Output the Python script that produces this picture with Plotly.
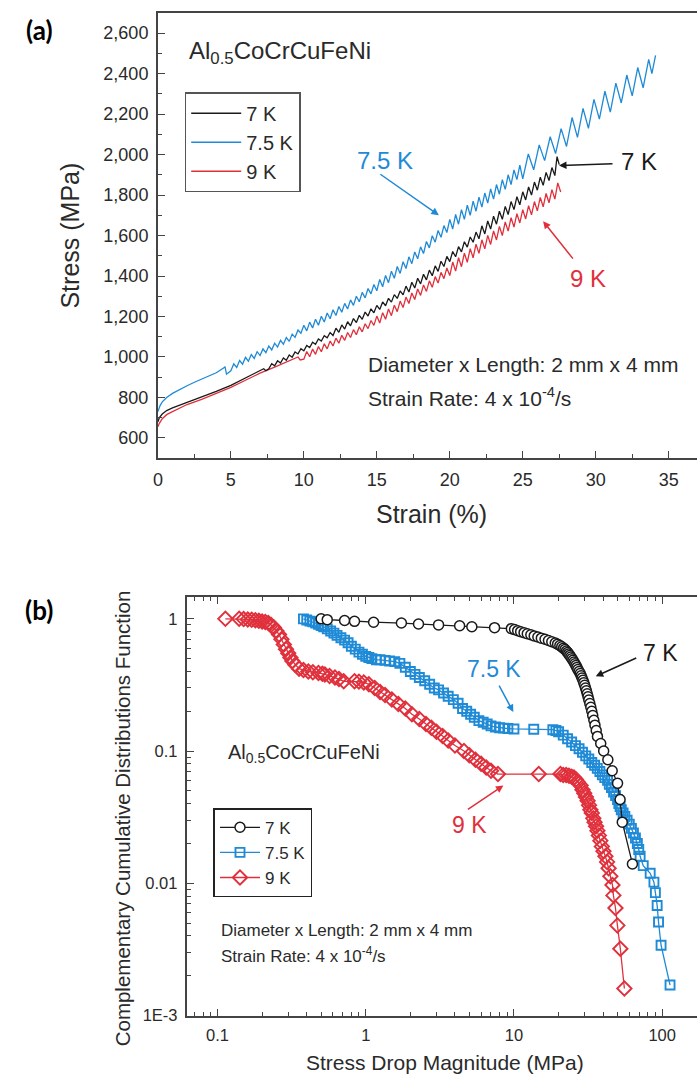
import plotly.graph_objects as go

# ---------------- Panel (a): stress-strain data (strain %, stress MPa) ----------------
curve_7K = [(0,680),(0.1,700),(0.3,718),(0.6,735),(1,748),(1.5,762),(2,775),(3,800),(4,830),(5,860),
            (6,895),(7,930),(7.25,942),(7.4,932),
            (7.6,942),(7.8,967),(8.0,956),(8.2,981),(8.4,970),(8.6,995),(8.8,984),(9.0,1010),
            (9.2,999),(9.4,1025),(9.6,1015),(9.8,1041),(10.0,1031),(10.2,1057),(10.4,1047),(10.6,1073),
            (10.8,1063),(11.0,1089),(11.2,1079),(11.4,1105),(11.6,1095),(11.8,1121),(12.0,1106),(12.2,1142),
            (12.4,1122),(12.6,1158),(12.8,1138),(13.0,1174),(13.2,1154),(13.4,1190),(13.6,1170),(13.8,1206),
            (14.0,1186),(14.2,1222),(14.4,1202),(14.6,1238),(14.8,1218),(15.0,1255),(15.2,1235),(15.4,1272),
            (15.6,1253),(15.8,1290),(16.0,1271),(16.2,1308),(16.4,1289),(16.6,1326),(16.8,1307),(17.0,1350),
            (17.2,1321),(17.4,1369),(17.6,1341),(17.8,1389),(18.0,1361),(18.2,1409),(18.4,1381),(18.6,1429),
            (18.8,1401),(19.0,1450),(19.2,1423),(19.4,1473),(19.6,1447),(19.8,1497),(20.0,1471),(20.2,1521),
            (20.4,1495),(20.6,1545),(20.8,1519),(21.0,1569),(21.2,1543),(21.4,1593),(21.6,1567),(21.8,1617),
            (22.0,1584),(22.2,1648),(22.4,1608),(22.6,1672),(22.8,1632),(23.0,1696),(23.2,1656),(23.4,1720),
            (23.6,1680),(23.8,1744),(24.0,1704),(24.2,1768),(24.4,1728),(24.6,1792),(24.8,1752),(25.0,1816),
            (25.2,1776),(25.4,1840),(25.6,1800),(25.8,1864),(26.0,1824),(26.2,1888),(26.4,1848),(26.6,1912),
            (26.8,1872),(27.0,1936),(27.2,1896),(27.35,1990),(27.5,1950)]

curve_75K = [(0,730),(0.15,760),(0.3,778),(0.6,800),(1,820),(1.5,840),(2,858),(2.5,875),(3,890),(3.5,905),
             (4,922),(4.5,945),(4.6,952),(4.7,915),
             (5.0,932),(5.2,966),(5.4,948),(5.6,982),(5.8,964),(6.0,998),(6.2,979),(6.4,1012),
             (6.6,993),(6.8,1026),(7.0,1007),(7.2,1040),(7.4,1021),(7.6,1054),(7.8,1035),(8.0,1068),
             (8.2,1049),(8.4,1082),(8.6,1063),(8.8,1096),(9.0,1077),(9.2,1113),(9.4,1097),(9.6,1133),
             (9.8,1117),(10.0,1157),(10.2,1129),(10.4,1172),(10.6,1143),(10.8,1186),(11.0,1157),(11.2,1201),
             (11.4,1173),(11.6,1217),(11.8,1189),(12.0,1233),(12.2,1205),(12.4,1249),(12.6,1221),(12.8,1265),
             (13.0,1237),(13.2,1282),(13.4,1255),(13.6,1300),(13.8,1273),(14.0,1319),(14.2,1292),(14.4,1338),
             (14.6,1312),(14.8,1358),(15.0,1327),(15.2,1383),(15.4,1347),(15.6,1403),(15.8,1367),(16.0,1424),
             (16.2,1389),(16.4,1447),(16.6,1413),(16.8,1471),(17.0,1437),(17.2,1495),(17.4,1461),(17.6,1519),
             (17.8,1485),(18.0,1544),(18.2,1511),(18.4,1571),(18.6,1539),(18.8,1599),(19.0,1567),(19.2,1625),
             (19.4,1591),(19.6,1649),(19.8,1615),(20.0,1680),(20.2,1632),(20.4,1704),(20.6,1656),(20.8,1728),
             (21.0,1680),(21.2,1750),(21.4,1700),(21.6,1770),(21.8,1720),(22.0,1790),(22.2,1740),(22.4,1810),
             (22.6,1760),(22.8,1830),(23.0,1780),(23.2,1852),(23.4,1804),(23.6,1876),(23.8,1828),(24.0,1900),
             (24.2,1852),(24.4,1924),(24.6,1876),(24.8,1948),
             (25.0,1880),(25.38,2003),(25.75,1925),(26.13,2048),(26.5,1970),(26.88,2088),(27.25,2005),(27.63,2128),
             (28.0,2040),(28.38,2183),(28.75,2085),(29.13,2228),(29.5,2130),(29.88,2273),(30.25,2175),(30.63,2313),
             (31.0,2210),(31.38,2353),(31.75,2255),(32.13,2393),(32.5,2290),(32.88,2430),(33.25,2330),(33.63,2470),
             (33.85,2400),(34.1,2490)]

curve_9K = [(0,655),(0.1,672),(0.3,695),(0.6,715),(1,730),(1.5,748),(2,765),(3,790),(4,820),(5,850),
            (6,885),(7,920),(8,950),(9,980),(9.6,1000),(9.75,985),
            (10.0,989),(10.2,1027),(10.4,1001),(10.6,1039),(10.8,1013),(11.0,1052),(11.2,1026),(11.4,1065),
            (11.6,1040),(11.8,1079),(12.0,1054),(12.2,1093),(12.4,1068),(12.6,1107),(12.8,1082),(13.0,1121),
            (13.2,1096),(13.4,1135),(13.6,1110),(13.8,1149),(14.0,1124),(14.2,1164),(14.4,1140),(14.6,1180),
            (14.8,1156),(15.0,1202),(15.2,1168),(15.4,1219),(15.6,1186),(15.8,1237),(16.0,1204),(16.2,1256),
            (16.4,1224),(16.6,1276),(16.8,1244),(17.0,1296),(17.2,1264),(17.4,1316),(17.6,1284),(17.8,1336),
            (18.0,1304),(18.2,1356),(18.4,1324),(18.6,1376),(18.8,1344),(19.0,1397),(19.2,1365),(19.4,1418),
            (19.6,1387),(19.8,1440),(20.0,1402),(20.2,1469),(20.4,1424),(20.6,1491),(20.8,1446),(21.0,1513),
            (21.2,1468),(21.4,1535),(21.6,1490),(21.8,1557),(22.0,1512),(22.2,1579),(22.4,1534),(22.6,1601),
            (22.8,1556),(23.0,1623),(23.2,1578),(23.4,1645),(23.6,1600),(23.8,1667),(24.0,1622),(24.2,1688),
            (24.4,1642),(24.6,1708),(24.8,1662),(25.0,1728),(25.2,1682),(25.4,1748),(25.6,1702),(25.8,1768),
            (26.0,1722),(26.2,1788),(26.4,1742),(26.6,1808),(26.8,1762),(27.0,1827),(27.2,1780),(27.4,1860),
            (27.6,1815)]

strain_ticks = [0, 5, 10, 15, 20, 25, 30, 35]
stress_ticks = [600, 800, 1000, 1200, 1400, 1600, 1800, 2000, 2200, 2400, 2600]

# ---------------- Panel (b): CCDF data (stress drop MPa, CCDF) ----------------
drop_7K = [0.50, 0.55, 0.72, 0.84, 1.13, 1.74, 2.27, 3.1, 4.3, 5.2, 7.4,
           9.6, 10.1, 10.6, 11.1, 11.7, 12.3, 13.0, 13.7, 14.5, 15.3, 16.2, 17.1, 18.0, 19.0,
           19.7, 20.4, 21.0, 21.6, 22.1, 22.6, 23.0, 23.4, 23.8, 24.2, 24.6, 25.0, 25.4, 25.8, 26.2, 26.6, 27.0, 27.5, 28.0,
           28.4, 28.8, 29.2, 29.6, 30.0, 30.4, 30.8, 31.2, 31.6, 32.0, 32.5, 33.0, 33.5, 34.0, 34.6, 35.2, 35.9, 36.6,
           38.5, 40.3, 43.0, 46.0, 50.0, 52.0, 53.8, 63.0]
ccdf_7K = [1.000, 0.986, 0.971, 0.957, 0.943, 0.929, 0.914, 0.900, 0.886, 0.871, 0.857, 0.843, 0.829, 0.814,
           0.800, 0.786, 0.771, 0.757, 0.743, 0.729, 0.714, 0.700, 0.686, 0.671, 0.657, 0.643, 0.629, 0.614,
           0.600, 0.586, 0.571, 0.557, 0.543, 0.529, 0.514, 0.500, 0.486, 0.471, 0.457, 0.443, 0.429, 0.414,
           0.400, 0.386, 0.371, 0.357, 0.343, 0.329, 0.314, 0.300, 0.286, 0.271, 0.257, 0.243, 0.229, 0.214,
           0.200, 0.186, 0.171, 0.157, 0.143, 0.129, 0.114, 0.100, 0.086, 0.071, 0.057, 0.043, 0.029, 0.014]

pts_75K = [(0.38,1.0),(0.40,0.98),(0.42,0.96),(0.44,0.95),(0.46,0.93),(0.48,0.91),(0.50,0.89),(0.52,0.87),
           (0.55,0.84),(0.58,0.81),(0.61,0.78),(0.64,0.75),(0.68,0.72),(0.72,0.69),(0.76,0.66),(0.80,0.62),
           (0.85,0.59),(0.90,0.56),(0.95,0.54),(1.00,0.52),(1.05,0.51),(1.10,0.50),(1.18,0.49),(1.25,0.49),
           (1.35,0.485),(1.45,0.48),(1.57,0.475),(1.70,0.46),(1.85,0.43),(2.00,0.40),(2.15,0.38),(2.30,0.36),
           (2.50,0.34),(2.70,0.32),(2.90,0.30),(3.10,0.29),(3.35,0.275),(3.60,0.26),(3.90,0.245),(4.20,0.23),
           (4.50,0.21),(4.80,0.20),(5.10,0.19),(5.40,0.18),(5.80,0.17),(6.20,0.165),(6.60,0.16),(7.00,0.155),
           (7.50,0.152),(8.00,0.15),(8.50,0.149),(9.10,0.148),(10.0,0.147),(13.6,0.146),(18.3,0.145),(19.2,0.143),
           (20.0,0.14),(21.5,0.132),(23.0,0.124),(24.5,0.117),(26.0,0.11),(27.5,0.104),(29.0,0.098),(30.5,0.092),
           (32.0,0.087),(33.5,0.082),(35.0,0.078),(36.5,0.074),(38.0,0.07),(39.5,0.066),(41.0,0.063),(42.8,0.06),
           (44.0,0.056),(45.5,0.053),(47.0,0.049),(48.5,0.046),(50.0,0.043),(51.0,0.04),(52.0,0.038),(53.0,0.036),
           (54.5,0.034),(56.0,0.032),(58.0,0.03),(60.0,0.028),(62.0,0.026),(64.0,0.024),(66.0,0.022),(68.0,0.02),
           (69.5,0.018),(71.0,0.016),(74.5,0.0136),(83.0,0.0119),(88.0,0.0102),(90.0,0.0085),(92.5,0.0068),
           (94.5,0.0051),(98.3,0.0034),(113.0,0.0017)]

pts_9K = [(0.113,1.0),(0.14,1.0),(0.15,0.995),(0.16,0.99),(0.17,0.985),(0.18,0.975),(0.19,0.965),(0.20,0.955),
          (0.21,0.945),(0.22,0.93),(0.23,0.90),(0.24,0.86),(0.25,0.81),(0.26,0.76),(0.27,0.70),(0.28,0.64),
          (0.29,0.59),(0.30,0.55),(0.31,0.51),(0.32,0.48),(0.335,0.45),(0.355,0.42),(0.38,0.41),(0.41,0.40),
          (0.44,0.395),(0.48,0.39),(0.51,0.385),(0.53,0.38),(0.57,0.37),(0.62,0.36),(0.66,0.35),(0.71,0.337),
          (0.84,0.337),(0.90,0.335),(0.97,0.33),(1.05,0.32),(1.15,0.30),(1.25,0.28),(1.35,0.265),(1.50,0.245),
          (1.66,0.227),(1.85,0.21),(2.05,0.19),(2.30,0.175),(2.55,0.16),(2.77,0.15),(3.00,0.14),(3.30,0.13),
          (3.60,0.12),(4.00,0.11),(4.60,0.10),(5.00,0.093),(5.50,0.086),(6.00,0.08),(6.50,0.075),(7.00,0.071),
          (7.80,0.067),(14.7,0.067),(20.6,0.067),(21.5,0.066),(22.5,0.066),(23.5,0.065),(24.5,0.064),(25.4,0.063),
          (26.2,0.061),(27.0,0.058),(28.2,0.055),(29.0,0.051),(29.8,0.048),(30.6,0.045),(31.4,0.042),(32.1,0.039),
          (32.8,0.036),(33.5,0.034),(34.3,0.031),(35.0,0.029),(35.8,0.027),(36.6,0.025),(37.4,0.023),(38.3,0.021),
          (39.2,0.019),(40.2,0.0175),(41.4,0.016),(42.5,0.0145),(43.5,0.013),(44.7,0.0113),(46.2,0.0097),
          (46.9,0.0081),(48.4,0.0065),(49.9,0.0048),(52.2,0.0032),(55.6,0.0016)]

drop_ticks = [0.1, 1, 10, 100]
drop_tick_text = ["0.1", "1", "10", "100"]
ccdf_ticks = [0.001, 0.01, 0.1, 1]
ccdf_tick_text = ["1E-3", "0.01", "0.1", "1"]

# ---------------- styling ----------------
BLACK = "#1a1a1a"
BLUE = "#1f8ad6"
RED = "#e0303c"
AX = "#444444"
TXT = "#2a2a2a"
FONT = "Liberation Sans, Arial, sans-serif"

fig = go.Figure()

def unzip(p):
    return [a for a, _ in p], [b for _, b in p]

# panel (a)
for name, pts, col, rank in [("9 K", curve_9K, RED, 3), ("7 K", curve_7K, BLACK, 1), ("7.5 K", curve_75K, BLUE, 2)]:
    xs, ys = unzip(pts)
    fig.add_trace(go.Scatter(x=xs, y=ys, mode="lines", name=name, legendrank=rank,
                             line=dict(color=col, width=1.3), xaxis="x", yaxis="y", legend="legend"))

# panel (b)
x75, y75 = unzip(pts_75K)
x9, y9 = unzip(pts_9K)
fig.add_trace(go.Scatter(x=x9, y=y9, mode="lines+markers", name="9 K", legendrank=3,
                         line=dict(color=RED, width=1.3),
                         marker=dict(symbol="diamond-open", size=11, color=RED, line=dict(width=1.9, color=RED)),
                         xaxis="x2", yaxis="y2", legend="legend2"))
fig.add_trace(go.Scatter(x=x75, y=y75, mode="lines+markers", name="7.5 K", legendrank=2,
                         line=dict(color=BLUE, width=1.3),
                         marker=dict(symbol="square-open", size=9, color=BLUE, line=dict(width=1.9, color=BLUE)),
                         xaxis="x2", yaxis="y2", legend="legend2"))
fig.add_trace(go.Scatter(x=drop_7K, y=ccdf_7K, mode="lines+markers", name="7 K", legendrank=1,
                         line=dict(color=BLACK, width=1.3),
                         marker=dict(symbol="circle", size=10, color="white", line=dict(width=1.5, color=BLACK)),
                         xaxis="x2", yaxis="y2", legend="legend2"))

W, H = 697, 1085
def px(x): return x / W
def py(y): return 1 - y / H

common = dict(showline=True, linecolor=AX, linewidth=1.8, ticks="inside", ticklen=7, tickwidth=1.4,
              tickcolor=AX, showgrid=False, zeroline=False, tickfont=dict(size=18, color=TXT, family=FONT))

log_minor_x = [m * 10 ** e for e in (-2, -1, 0, 1, 2) for m in range(2, 10)]
log_minor_y = [m * 10 ** e for e in (-3, -2, -1, 0) for m in range(2, 10)]

fig.update_layout(
    width=W, height=H, margin=dict(l=0, r=0, t=0, b=0),
    paper_bgcolor="white", plot_bgcolor="white",
    font=dict(family=FONT, color=TXT),
    xaxis=dict(domain=[px(154), 1], range=[0, 36.94], anchor="y", mirror=True,
               tickvals=strain_ticks, ticklabelstandoff=4,
               minor=dict(ticks="inside", ticklen=4, tickwidth=1.2, tickcolor=AX, dtick=2.5, tick0=0), **common),
    yaxis=dict(domain=[py(462), py(13)], range=[500, 2700], anchor="x", tickvals=stress_ticks,
               tickformat=",d", ticklabelstandoff=4,
               minor=dict(ticks="inside", ticklen=4, tickwidth=1.2, tickcolor=AX, dtick=100, tick0=0), **common),
    xaxis2=dict(type="log", domain=[px(183), 1], range=[-1.208, 2.235], anchor="y2", mirror="ticks",
                tickvals=drop_ticks, ticktext=drop_tick_text, ticklabelstandoff=4,
                minor=dict(ticks="inside", ticklen=4, tickwidth=1.2, tickcolor=AX, tickvals=log_minor_x),
                **{**common, "tickfont": dict(size=16.5, color=TXT, family=FONT)}),
    yaxis2=dict(type="log", domain=[py(1024), py(602)], range=[-3, 0.165], anchor="x2",
                tickvals=ccdf_ticks, ticktext=ccdf_tick_text, ticklabelstandoff=4,
                minor=dict(ticks="inside", ticklen=4, tickwidth=1.2, tickcolor=AX, tickvals=log_minor_y),
                **{**common, "tickfont": dict(size=16.5, color=TXT, family=FONT)}),
    legend=dict(x=px(181), y=py(93), xanchor="left", yanchor="top", bgcolor="white",
                bordercolor="#555", borderwidth=1.5, font=dict(size=20, color=TXT, family=FONT),
                tracegroupgap=0, itemwidth=50, traceorder="normal"),
    legend2=dict(x=px(210), y=py(815), xanchor="left", yanchor="top", bgcolor="white",
                 bordercolor="#222", borderwidth=1.5, font=dict(size=17, color=TXT, family=FONT),
                 tracegroupgap=0, itemwidth=40, traceorder="normal"),
    showlegend=True,
)

ann = []
def text(x, y, s, size, color=TXT, xanchor="center", angle=0, family=FONT):
    ann.append(dict(x=px(x), y=py(y), xref="paper", yref="paper", text=s, showarrow=False,
                    xanchor=xanchor, yanchor="middle", textangle=angle,
                    font=dict(size=size, color=color, family=family)))

def arrow(hx, hy, tx, ty, color):
    ann.append(dict(x=px(hx), y=py(hy), xref="paper", yref="paper", ax=tx - hx, ay=ty - hy,
                    axref="pixel", ayref="pixel", text="", showarrow=True, arrowhead=2,
                    arrowsize=1, arrowwidth=1.5, arrowcolor=color))

# panel labels
text(35, 30, "<b>(a)</b>", 26, "black", family="Lato, sans-serif")
text(34, 615, "<b>(b)</b>", 26, "black", family="Lato, sans-serif")

# panel (a) texts
text(183, 53, "Al<sub>0.5</sub>CoCrCuFeNi", 24, TXT, xanchor="left")
text(65, 238, "Stress (MPa)", 25, TXT, angle=-90)
text(430, 518, "Strain (%)", 25, TXT)
text(383, 162, "7.5 K", 24, BLUE)
text(639, 163, "7 K", 24, BLACK)
text(587, 281, "9 K", 24, RED)
text(364, 368, "Diameter x Length: 2 mm x 4 mm", 21, TXT, xanchor="left")
text(364, 400, "Strain Rate: 4 x 10<sup>-4</sup>/s", 21, TXT, xanchor="left")
arrow(437, 217, 377, 175, BLUE)
arrow(558, 167, 613, 165, BLACK)
arrow(542, 223, 573, 262, RED)

# panel (b) texts
text(223, 760, "Al<sub>0.5</sub>CoCrCuFeNi", 20, TXT, xanchor="left")
text(118, 825, "Complementary Cumulative Distributions Function", 20.5, TXT, angle=-90)
text(443, 1071, "Stress Drop Magnitude (MPa)", 21, TXT)
text(660, 658, "7 K", 23, BLACK)
text(493, 675, "7.5 K", 23, BLUE)
text(468, 832, "9 K", 23, RED)
text(216, 938, "Diameter x Length: 2 mm x 4 mm", 17, TXT, xanchor="left")
text(216, 963, "Strain Rate: 4 x 10<sup>-4</sup>/s", 17, TXT, xanchor="left")
arrow(595, 682, 637, 663, BLACK)
arrow(512, 718, 497, 690, BLUE)
arrow(502, 792, 465, 817, RED)

fig.update_layout(annotations=ann)
fig.write_html("out.html")
